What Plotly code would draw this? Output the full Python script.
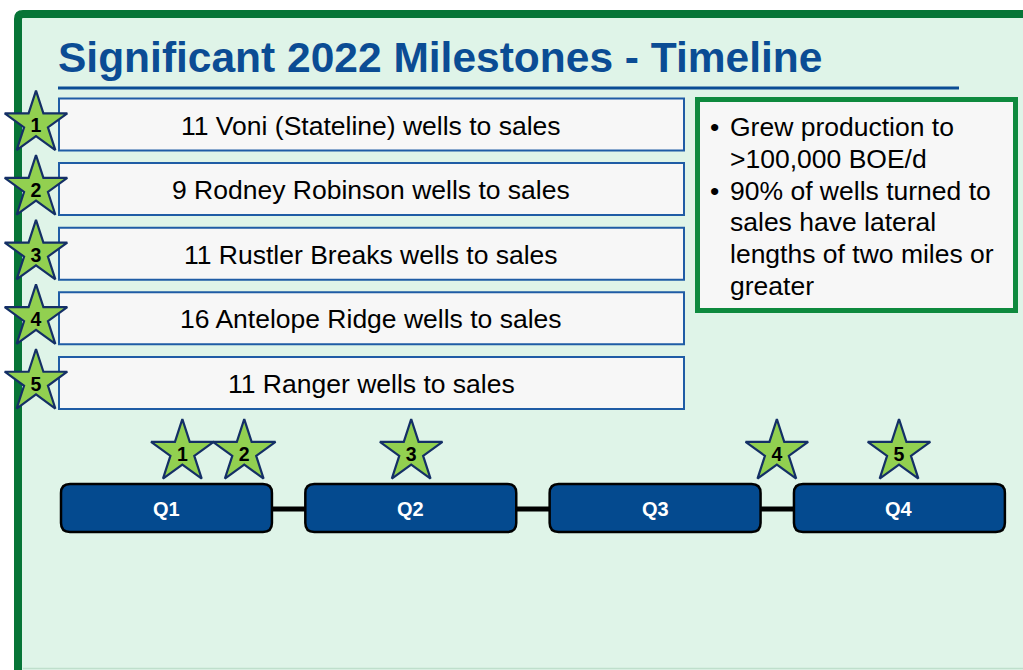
import plotly.graph_objects as go

# ---------------- data ----------------
title_text = "Significant 2022 Milestones - Timeline"
event_labels = [
    "11 Voni (Stateline) wells to sales",
    "9 Rodney Robinson wells to sales",
    "11 Rustler Breaks wells to sales",
    "16 Antelope Ridge wells to sales",
    "11 Ranger wells to sales",
]
event_numbers = ["1", "2", "3", "4", "5"]
quarters = ["Q1", "Q2", "Q3", "Q4"]
quarter_start_month = [0, 3, 6, 9]
quarter_len_month = 2.59
milestone_month = [1.49, 2.25, 4.30, 8.79, 10.29]   # position on the 2022 timeline (months)
bullet_lines = [
    ("•", "Grew production to"),
    ("", ">100,000 BOE/d"),
    ("•", "90% of wells turned to"),
    ("", "sales have lateral"),
    ("", "lengths of two miles or"),
    ("", "greater"),
]

# ---------------- styles ----------------
FONT = "Liberation Sans, Arial, sans-serif"
GREEN_DARK = "#077537"
GREEN_BOX = "#0E8A3E"
MINT = "#DFF4E8"
BLUE_T = "#0B4C94"
BLUE_BOX = "#1F5CA5"
BAR = "#044A8F"
STAR_FILL = "#92D050"
STAR_LINE = "#142F66"

W, H = 1023, 670
PX_PER_MONTH = 81.44
M0_PX = 61.0


def rrect(x0, y0, x1, y1, rx, ry):
    return (f"M{x0+rx},{y0} L{x1-rx},{y0} Q{x1},{y0} {x1},{y0+ry} "
            f"L{x1},{y1-ry} Q{x1},{y1} {x1-rx},{y1} L{x0+rx},{y1} "
            f"Q{x0},{y1} {x0},{y1-ry} L{x0},{y0+ry} Q{x0},{y0} {x0+rx},{y0} Z")


shapes = []
annotations = []

# panel
shapes.append(dict(type="path", xref="x", yref="y", layer="below",
                   path=rrect(18, 14, 1060, 700, 5, 5),
                   fillcolor=MINT, line=dict(color=GREEN_DARK, width=8)))
shapes.append(dict(type="line", xref="x", yref="y", layer="below",
                   x0=23, x1=1023, y0=668.5, y1=668.5,
                   line=dict(color="#BFDFCC", width=1.5)))

# title + underline
annotations.append(dict(xref="x", yref="y", x=56, y=57, xanchor="left", yanchor="middle",
                        text=f"<b>{title_text}</b>", showarrow=False,
                        font=dict(family=FONT, size=42.5, color=BLUE_T)))
shapes.append(dict(type="line", xref="x", yref="y", layer="below",
                   x0=58, x1=959, y0=88, y1=88, line=dict(color=BLUE_T, width=3)))

# event boxes
box_top0, box_pitch, box_h = 98.5, 64.6, 52
for i, lab in enumerate(event_labels):
    y0 = box_top0 + i * box_pitch
    shapes.append(dict(type="rect", xref="x", yref="y", layer="below",
                       x0=59, x1=684, y0=y0, y1=y0 + box_h,
                       fillcolor="#F7F7F7", line=dict(color=BLUE_BOX, width=2)))
    annotations.append(dict(xref="x", yref="y", x=371, y=y0 + box_h / 2 + 1,
                            xanchor="center", yanchor="middle", text=lab, showarrow=False,
                            font=dict(family=FONT, size=26.5, color="#000000")))

# right info box
shapes.append(dict(type="rect", xref="x", yref="y", layer="below",
                   x0=697.5, x1=1015.5, y0=99.5, y1=310.5,
                   fillcolor="#F7F7F7", line=dict(color=GREEN_BOX, width=5)))
line_y0, line_dy = 127, 31.8
for i, (b, t) in enumerate(bullet_lines):
    yy = line_y0 + i * line_dy
    if b:
        annotations.append(dict(xref="x", yref="y", x=708, y=yy, xanchor="left", yanchor="middle",
                                text=b, showarrow=False,
                                font=dict(family=FONT, size=26.5, color="#000000")))
    annotations.append(dict(xref="x", yref="y", x=728, y=yy, xanchor="left", yanchor="middle",
                            text=t, showarrow=False,
                            font=dict(family=FONT, size=26.5, color="#000000")))

# timeline connector + quarter bars (months axis x2)
bar_y0, bar_y1 = 484, 532
shapes.append(dict(type="line", xref="x2", yref="y", layer="below",
                   x0=quarter_start_month[0] + 1, x1=quarter_start_month[-1] + 1,
                   y0=509, y1=509, line=dict(color="#000000", width=5)))
for q, s in zip(quarters, quarter_start_month):
    rx = 9 / PX_PER_MONTH
    shapes.append(dict(type="path", xref="x2", yref="y", layer="below",
                       path=rrect(s, bar_y0, s + quarter_len_month, bar_y1, rx, 9),
                       fillcolor=BAR, line=dict(color="#000000", width=2.5)))
    annotations.append(dict(xref="x2", yref="y", x=s + quarter_len_month / 2, y=509,
                            xanchor="center", yanchor="middle", text=f"<b>{q}</b>",
                            showarrow=False, font=dict(family=FONT, size=20, color="#FFFFFF")))

fig = go.Figure()

# left stars
left_y = [box_top0 + i * box_pitch + 25 for i in range(len(event_labels))]
fig.add_trace(go.Scatter(
    x=[36] * len(event_numbers), y=left_y, xaxis="x", yaxis="y",
    mode="markers", hoverinfo="skip",
    marker=dict(symbol="star", size=47, color=STAR_FILL, line=dict(color=STAR_LINE, width=2.2)),
    showlegend=False))
fig.add_trace(go.Scatter(
    x=[36] * len(event_numbers), y=[v + 4 for v in left_y], xaxis="x", yaxis="y",
    mode="text", text=[f"<b>{n}</b>" for n in event_numbers], hoverinfo="skip",
    textfont=dict(family=FONT, size=19.5, color="#000000"), showlegend=False))

# timeline stars
tl_y = 452
fig.add_trace(go.Scatter(
    x=milestone_month, y=[tl_y] * len(milestone_month), xaxis="x2", yaxis="y",
    mode="markers", hoverinfo="skip",
    marker=dict(symbol="star", size=47, color=STAR_FILL, line=dict(color=STAR_LINE, width=2.2)),
    showlegend=False))
fig.add_trace(go.Scatter(
    x=milestone_month, y=[tl_y + 4.5] * len(milestone_month), xaxis="x2", yaxis="y",
    mode="text", text=[f"<b>{n}</b>" for n in event_numbers], hoverinfo="skip",
    textfont=dict(family=FONT, size=19.5, color="#000000"), showlegend=False))

fig.update_layout(
    width=W, height=H, margin=dict(l=0, r=0, t=0, b=0),
    paper_bgcolor="#FFFFFF", plot_bgcolor="rgba(0,0,0,0)",
    xaxis=dict(range=[0, W], visible=False, fixedrange=True),
    xaxis2=dict(range=[-M0_PX / PX_PER_MONTH, (W - M0_PX) / PX_PER_MONTH],
                overlaying="x", visible=False, fixedrange=True),
    yaxis=dict(range=[H, 0], visible=False, fixedrange=True),
    shapes=shapes, annotations=annotations, showlegend=False,
)

fig.write_html("out.html", config={"displayModeBar": False},
               post_script="document.body.style.margin='0';document.body.style.padding='0';")
